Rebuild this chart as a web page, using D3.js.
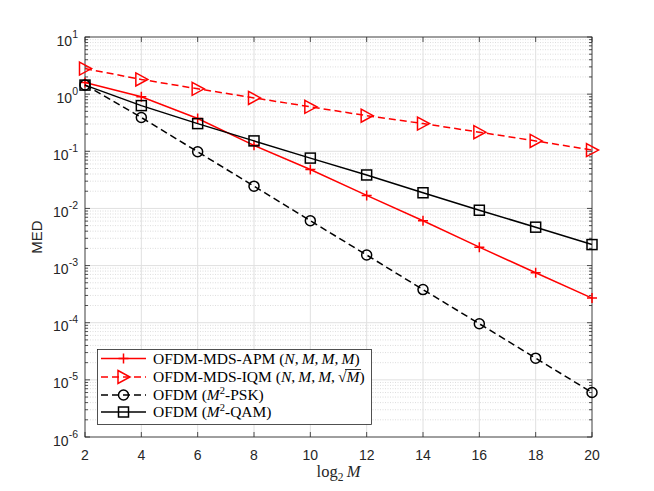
<!DOCTYPE html>
<html><head><meta charset="utf-8">
<script src="https://cdn.jsdelivr.net/npm/d3@7"></script>
<style>body{margin:0;background:#fff}</style>
</head><body>
<svg id="c" width="654" height="491"></svg>
<script>
const xs = [2,4,6,8,10,12,14,16,18,20];
const apm = [1.6,0.9,0.375,0.127,0.048,0.0169,0.0061,0.0021,0.00075,0.00027];
const iqm = [2.8,1.81,1.24,0.86,0.6,0.42,0.305,0.216,0.152,0.105];
const psk = [1.45,0.39,0.098,0.0245,0.0061,0.00153,0.00038,0.000096,0.000024,0.000006];
const qam = [1.44,0.63,0.305,0.152,0.076,0.0385,0.0188,0.0093,0.0047,0.00233];
const xTicks = [2,4,6,8,10,12,14,16,18,20];
const yExps = [1,0,-1,-2,-3,-4,-5,-6];

const svg = d3.select('#c');
const L=85,R=592,T=37,B=437;
const x = d3.scaleLinear().domain([2,20]).range([L,R]);
const y = d3.scaleLog().domain([1e-6,10]).range([B,T]);
const axc = '#262626';
const sans = 'Liberation Sans, Arial, Helvetica, sans-serif';
const serif = 'Liberation Serif, Times New Roman, serif';

// grid
const g = svg.append('g');
for(let e=-6;e<1;e++){
  for(let k=2;k<=9;k++){
    const v=k*Math.pow(10,e);
    g.append('line').attr('x1',L).attr('x2',R).attr('y1',y(v)).attr('y2',y(v))
     .attr('stroke','#cfcfcf').attr('stroke-width',0.7).attr('stroke-dasharray','1,1.5');
  }
}
yExps.forEach(e=>{
  const v=Math.pow(10,e);
  g.append('line').attr('x1',L).attr('x2',R).attr('y1',y(v)).attr('y2',y(v))
   .attr('stroke','#e0e0e0').attr('stroke-width',1);
});
xTicks.forEach(t=>{
  g.append('line').attr('x1',x(t)).attr('x2',x(t)).attr('y1',T).attr('y2',B)
   .attr('stroke','#e0e0e0').attr('stroke-width',1);
});

// axes box and ticks
const ax = svg.append('g');
ax.append('rect').attr('x',L).attr('y',T).attr('width',R-L).attr('height',B-T)
  .attr('fill','none').attr('stroke',axc).attr('stroke-width',0.8);
xTicks.forEach(t=>{
  ax.append('line').attr('x1',x(t)).attr('x2',x(t)).attr('y1',B).attr('y2',B-5).attr('stroke',axc).attr('stroke-width',0.8);
  ax.append('line').attr('x1',x(t)).attr('x2',x(t)).attr('y1',T).attr('y2',T+5).attr('stroke',axc).attr('stroke-width',0.8);
  ax.append('text').attr('x',x(t)).attr('y',B+23).attr('text-anchor','middle')
    .attr('font-family',sans).attr('font-size',14).attr('fill',axc).text(t);
});
for(let e=-6;e<1;e++){
  for(let k=2;k<=9;k++){
    const v=k*Math.pow(10,e);
    ax.append('line').attr('x1',L).attr('x2',L+3).attr('y1',y(v)).attr('y2',y(v)).attr('stroke',axc).attr('stroke-width',0.8);
    ax.append('line').attr('x1',R).attr('x2',R-3).attr('y1',y(v)).attr('y2',y(v)).attr('stroke',axc).attr('stroke-width',0.8);
  }
}
yExps.forEach(e=>{
  const v=Math.pow(10,e);
  ax.append('line').attr('x1',L).attr('x2',L+5).attr('y1',y(v)).attr('y2',y(v)).attr('stroke',axc).attr('stroke-width',0.8);
  ax.append('line').attr('x1',R).attr('x2',R-5).attr('y1',y(v)).attr('y2',y(v)).attr('stroke',axc).attr('stroke-width',0.8);
  const tx = ax.append('text').attr('x',L-7).attr('y',y(v)+8.5).attr('text-anchor','end')
    .attr('font-family',sans).attr('font-size',14).attr('fill',axc);
  tx.append('tspan').text('10');
  tx.append('tspan').attr('dy',-8).attr('font-size',10.5).text(e);
});

// axis labels
const xl = svg.append('text').attr('x',(L+R)/2).attr('y',477).attr('text-anchor','middle')
  .attr('font-family',serif).attr('font-size',16.5).attr('fill',axc);
xl.append('tspan').text('log');
xl.append('tspan').attr('font-size',11.5).attr('dy',3.5).text('2');
xl.append('tspan').attr('dy',-3.5).attr('font-style','italic').text('\u2009M');
svg.append('text').attr('transform',`translate(42,${(T+B)/2}) rotate(-90)`).attr('text-anchor','middle')
  .attr('font-family',sans).attr('font-size',15).attr('fill',axc).text('MED');

// series
const line = d3.line().x((d,i)=>x(xs[i])).y(d=>y(d));
function marker(sel, type, color, cx, cy){
  if(type==='plus'){
    sel.append('path').attr('d',`M${cx-5},${cy}H${cx+5}M${cx},${cy-5}V${cy+5}`).attr('stroke',color).attr('stroke-width',1.5).attr('fill','none');
  } else if(type==='tri'){
    sel.append('path').attr('d',`M${cx-5.5},${cy-6.5}L${cx+6.5},${cy}L${cx-5.5},${cy+6.5}Z`).attr('stroke',color).attr('stroke-width',1.5).attr('fill','none');
  } else if(type==='circ'){
    sel.append('circle').attr('cx',cx).attr('cy',cy).attr('r',5).attr('stroke',color).attr('stroke-width',1.5).attr('fill','none');
  } else if(type==='sq'){
    sel.append('rect').attr('x',cx-5).attr('y',cy-5).attr('width',10).attr('height',10).attr('stroke',color).attr('stroke-width',1.5).attr('fill','none');
  }
}
const series = [
  {d:apm,c:'#ff0000',dash:null,m:'plus'},
  {d:iqm,c:'#ff0000',dash:'7,4',m:'tri'},
  {d:psk,c:'#000000',dash:'7,4',m:'circ'},
  {d:qam,c:'#000000',dash:null,m:'sq'}
];
const sg = svg.append('g');
series.forEach(s=>{
  sg.append('path').datum(s.d).attr('d',line).attr('fill','none').attr('stroke',s.c)
    .attr('stroke-width',1.5).attr('stroke-dasharray',s.dash);
  s.d.forEach((v,i)=>marker(sg,s.m,s.c,x(xs[i]),y(v)));
});

// legend
const lg = svg.append('g');
lg.append('rect').attr('x',97.5).attr('y',349.5).attr('width',274).attr('height',75)
  .attr('fill','#fff').attr('stroke',axc).attr('stroke-width',0.8);
const rows=[358.5,377,395,412];
const labels = [
  [['OFDM-MDS-APM (',''],['N','i'],[',\u2009',''],['M','i'],[',\u2009',''],['M','i'],[',\u2009',''],['M','i'],[')','']],
  [['OFDM-MDS-IQM (',''],['N','i'],[',\u2009',''],['M','i'],[',\u2009',''],['M','i'],[',\u2009\u221A',''],['M','io'],[')','']],
  [['OFDM (',''],['M','i'],['2','s'],['-PSK)','']],
  [['OFDM (',''],['M','i'],['2','s'],['-QAM)','']]
];
series.forEach((s,i)=>{
  const yy=rows[i];
  lg.append('line').attr('x1',101).attr('x2',146).attr('y1',yy).attr('y2',yy).attr('stroke',s.c)
    .attr('stroke-width',1.5).attr('stroke-dasharray',s.dash);
  marker(lg,s.m,s.c,123.5,yy);
  const t = lg.append('text').attr('x',153).attr('y',yy+5).attr('font-family',serif)
    .attr('font-size',15.5).attr('fill','#000');
  let sup=false;
  labels[i].forEach(([txt,st])=>{
    const sp=t.append('tspan').text(txt);
    if(st.includes('i')) sp.attr('font-style','italic');
    if(st==='s'){ sp.attr('font-size',10.5).attr('dy',-6); sup=true; }
    else if(sup){ sp.attr('dy',6); sup=false; }
    if(st.includes('o')){
      const bb = sp.node().getBBox();
      lg.append('line').attr('x1',bb.x-0.5).attr('x2',bb.x+bb.width+0.5)
        .attr('y1',bb.y+1.5).attr('y2',bb.y+1.5).attr('stroke','#000').attr('stroke-width',0.8);
    }
  });
});
</script>
</body></html>
